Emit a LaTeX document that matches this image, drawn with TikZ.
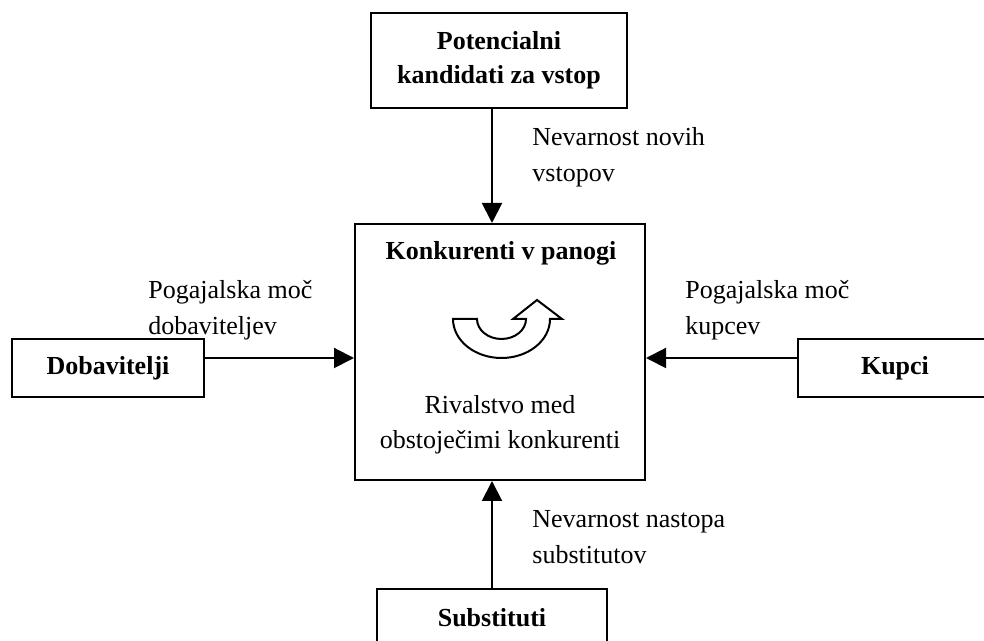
\documentclass[tikz,border=0pt]{standalone}
\usepackage{fontspec}
\setmainfont{Liberation Serif}
\usetikzlibrary{arrows.meta}

\begin{document}
\begin{tikzpicture}[x=0.5pt,y=0.5pt,>={Triangle[length=10pt,width=10pt]},
    font=\fontsize{13}{17.25}\selectfont,
    box/.style={draw,line width=1pt,inner sep=0pt,align=center,font=\fontsize{13}{17.25}\selectfont\bfseries},
    lbl/.style={inner sep=0pt,align=left,font=\fontsize{13}{18}\selectfont}]
  \useasboundingbox (0,0) rectangle (984,641);
  \node[box,minimum width=128pt,minimum height=47.5pt] (pot) at (499,580.5)
    {Potencialni\\kandidati za vstop};
  \node[box,minimum width=145pt,minimum height=128pt] (konk) at (500,289) {};
  \node[box,minimum width=96pt,minimum height=29pt] (dob) at (108,273) {Dobavitelji};
  \node[box,minimum width=97pt,minimum height=29pt] (kup) at (895,273) {Kupci};
  \node[box,minimum width=115pt,minimum height=29pt] (sub) at (492,23) {Substituti};
  \node[anchor=base,font=\fontsize{13}{17.25}\selectfont\bfseries] (naslov) at (501,381)
    {Konkurenti v panogi};
  \node[anchor=north,inner sep=0pt,align=center,font=\fontsize{13}{17.5}\selectfont] (rival) at (500,246)
    {Rivalstvo med\\obstoječimi konkurenti};
  \node[lbl,anchor=north west] (novi) at (532,514) {Nevarnost novih\\vstopov};
  \node[lbl,anchor=north west] (nastop) at (532,131) {Nevarnost nastopa\\substitutov};
  \node[lbl,anchor=north west] (pogdob) at (148,361) {Pogajalska moč\\dobaviteljev};
  \node[lbl,anchor=north west] (pogkup) at (685,361) {Pogajalska moč\\kupcev};
  \draw[line width=1pt]
    (453,322) -- (477,322)
    arc[start angle=180,end angle=360,x radius=12.25pt,y radius=10pt]
    -- (513,322) -- (537,341) -- (562,322) -- (550,322)
    arc[start angle=0,end angle=-180,x radius=24.25pt,y radius=19.5pt] -- cycle;
  \draw[->,line width=1pt] (pot.south -| sub.north) -- (konk.north -| sub.north);
  \draw[->,line width=1pt] (sub.north) -- (konk.south -| sub.north);
  \draw[->,line width=1pt] ([yshift=5pt]dob.east) -- ([yshift=5pt]dob.east -| konk.west);
  \draw[->,line width=1pt] ([yshift=5pt]kup.west) -- ([yshift=5pt]kup.west -| konk.east);
\end{tikzpicture}
\end{document}
